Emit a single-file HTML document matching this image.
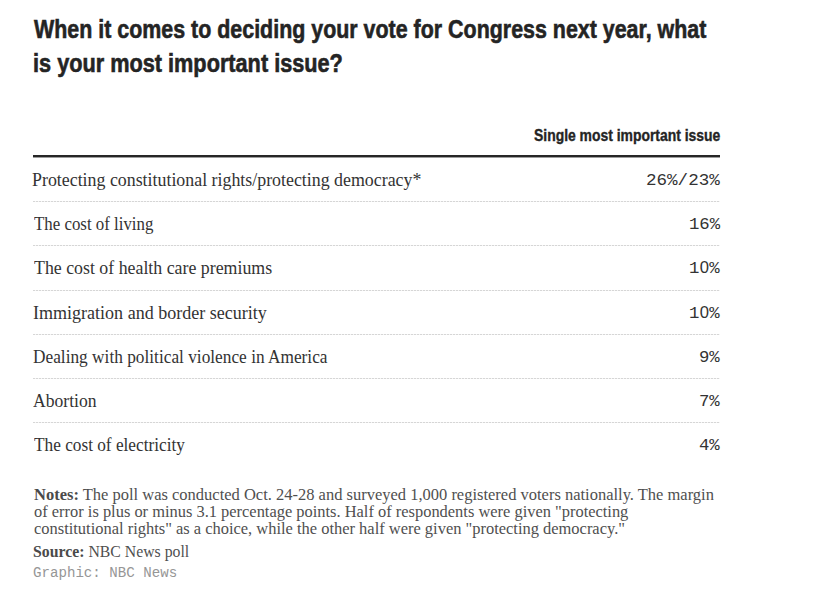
<!DOCTYPE html>
<html><head><meta charset="utf-8">
<style>
html,body{margin:0;padding:0;background:#fff;}
body{width:815px;height:598px;position:relative;overflow:hidden;}
.t{position:absolute;white-space:nowrap;line-height:1;}
.title{font-family:"Liberation Sans",sans-serif;font-weight:bold;font-size:26px;color:#242424;-webkit-text-stroke:0.6px #242424;}
.hdr{font-family:"Liberation Sans",sans-serif;font-weight:bold;font-size:15.9px;color:#242424;-webkit-text-stroke:0.35px #242424;}
.rule{position:absolute;left:33px;width:687px;height:2px;background:#262626;top:155px;box-shadow:0 1px 0 rgba(38,38,38,0.45);}
.dot{position:absolute;left:33px;width:687px;height:1px;background-image:repeating-linear-gradient(to right,#d6d6d6 0 2px,#f5f5f5 2px 3px);}
.lab{font-family:"Liberation Serif",serif;font-size:19px;color:#333;}
.val{font-family:"Liberation Mono",monospace;font-size:17.3px;color:#333;}
.note{font-family:"Liberation Serif",serif;font-size:16px;color:#4f4f4f;}
.note b{color:#4a4a4a;}
.z{display:inline-block;width:0.6em;text-align:center;font-family:"Liberation Sans",sans-serif;font-size:16.6px;font-weight:normal;}
.gr{font-family:"Liberation Mono",monospace;font-size:14px;color:#969696;}
</style></head><body>
<div class="t title" id="t1" style="left:34.00px;top:15.69px;transform:scaleX(0.8237);transform-origin:0 0;">When it comes to deciding your vote for Congress next year, what</div>
<div class="t title" id="t2" style="left:33.17px;top:49.59px;transform:scaleX(0.8346);transform-origin:0 0;">is your most important issue?</div>
<div class="t hdr" id="hdr" style="left:534.24px;top:128.44px;transform:scaleX(0.8755);transform-origin:0 0;">Single most important issue</div>
<div class="t lab" id="l1" style="left:32.24px;top:169.59px;transform:scaleX(0.9400);transform-origin:0 0;">Protecting constitutional rights/protecting democracy*</div>
<div class="t lab" id="l2" style="left:34.23px;top:213.99px;transform:scaleX(0.8874);transform-origin:0 0;">The cost of living</div>
<div class="t lab" id="l3" style="left:34.21px;top:258.29px;transform:scaleX(0.9384);transform-origin:0 0;">The cost of health care premiums</div>
<div class="t lab" id="l4" style="left:33.05px;top:302.59px;transform:scaleX(0.9490);transform-origin:0 0;">Immigration and border security</div>
<div class="t lab" id="l5" style="left:33.09px;top:346.89px;transform:scaleX(0.9106);transform-origin:0 0;">Dealing with political violence in America</div>
<div class="t lab" id="l6" style="left:33.04px;top:391.19px;transform:scaleX(0.9253);transform-origin:0 0;">Abortion</div>
<div class="t lab" id="l7" style="left:34.22px;top:435.39px;transform:scaleX(0.9079);transform-origin:0 0;">The cost of electricity</div>
<div class="t val" id="v1" style="left:646.19px;top:171.65px;transform:scaleX(1.0156);transform-origin:0 0;">26%/23%</div>
<div class="t val" id="v2" style="left:689.00px;top:215.95px;transform:scaleX(1.0000);transform-origin:0 0;">16%</div>
<div class="t val" id="v3" style="left:689.00px;top:260.25px;transform:scaleX(1.0000);transform-origin:0 0;">1<span class=z>0</span>%</div>
<div class="t val" id="v4" style="left:689.00px;top:304.55px;transform:scaleX(1.0000);transform-origin:0 0;">1<span class=z>0</span>%</div>
<div class="t val" id="v5" style="left:699.00px;top:348.85px;transform:scaleX(1.0000);transform-origin:0 0;">9%</div>
<div class="t val" id="v6" style="left:699.00px;top:393.15px;transform:scaleX(1.0000);transform-origin:0 0;">7%</div>
<div class="t val" id="v7" style="left:699.00px;top:437.35px;transform:scaleX(1.0000);transform-origin:0 0;">4%</div>
<div class="t note" id="n1" style="left:34.00px;top:487.00px;transform:scaleX(1.0307);transform-origin:0 0;"><b>Notes:</b> The poll was conducted Oct. 24-28 and surveyed 1,000 registered voters nationally. The margin</div>
<div class="t note" id="n2" style="left:34.00px;top:504.00px;transform:scaleX(1.0268);transform-origin:0 0;">of error is plus or minus 3.1 percentage points. Half of respondents were given &quot;protecting</div>
<div class="t note" id="n3" style="left:34.00px;top:521.20px;transform:scaleX(1.0281);transform-origin:0 0;">constitutional rights&quot; as a choice, while the other half were given &quot;protecting democracy.&quot;</div>
<div class="t note" id="n4" style="left:33.01px;top:543.60px;transform:scaleX(0.9867);transform-origin:0 0;"><b>Source:</b> NBC News poll</div>
<div class="t gr" id="g1" style="left:32.99px;top:565.97px;transform:scaleX(1.0092);transform-origin:0 0;">Graphic: NBC News</div>
<div class="dot" style="top:201px"></div>
<div class="dot" style="top:245px"></div>
<div class="dot" style="top:290px"></div>
<div class="dot" style="top:334px"></div>
<div class="dot" style="top:378px"></div>
<div class="dot" style="top:422px"></div>
<div class="rule"></div>
</body></html>
